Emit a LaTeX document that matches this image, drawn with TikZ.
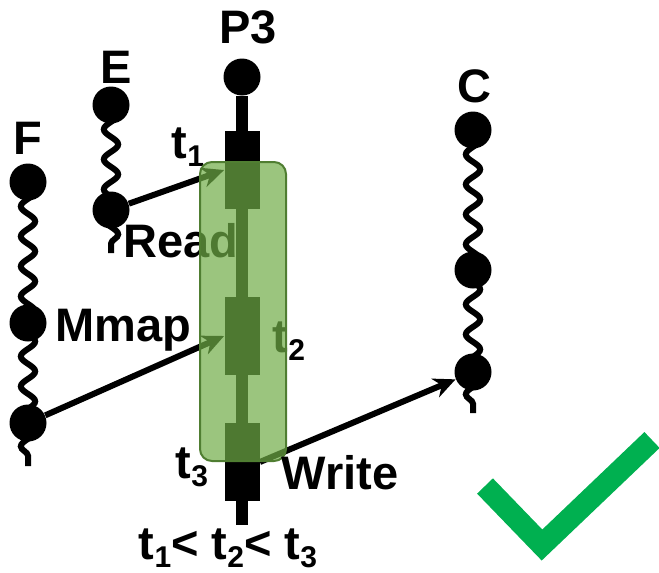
\documentclass[tikz,border=0pt]{standalone}
\usepackage{fontspec}
\setmainfont{Liberation Sans}
\usetikzlibrary{arrows.meta,decorations.pathmorphing}
\definecolor{boxfill}{RGB}{112, 173, 71}
\definecolor{boxline}{RGB}{80, 126, 50}
\definecolor{okgreen}{RGB}{0, 176, 80}
\tikzstyle{ball} = [
    circle,
    fill=black,
    minimum size=18.5pt,
    inner sep=0pt
]
\tikzstyle{wave} = [
    line width=3pt,
    decorate,
    decoration={snake, segment length=15pt, amplitude=3.6pt}
]
\tikzstyle{flow} = [
    line width=3pt,
    -{Stealth[length=11pt, width=10pt, inset=3.5pt]}
]
\tikzstyle{block} = [
    rectangle,
    fill=black,
    minimum width=17.5pt,
    minimum height=39pt,
    inner sep=0pt
]
\tikzstyle{lbl} = [
    font=\fontsize{23.5}{27}\selectfont\bfseries,
    inner sep=0pt
]
\tikzstyle{groupbox} = [
    rounded corners=6pt,
    fill=boxfill,
    fill opacity=0.7,
    draw=boxline,
    line width=1pt
]
\newcommand{\idx}[1]{\raisebox{-4pt}{\fontsize{15}{17}\selectfont #1}}

\begin{document}
\begin{tikzpicture}[x=0.5pt, y=-0.5pt]
        \useasboundingbox (0,0) rectangle (659,573);

        % Process P3
        \node[ball] (p3) at (242,77) {};
        \coordinate (p3end) at (242,525);
        \draw[line width=6pt] (p3) -- (p3end);
        \node[block] (blk1) at (242,170) {};
        \node[block] (blk2) at (242,336) {};
        \node[block] (blk3) at (242,462) {};
        \node[lbl] (p3lbl) at (248,27) {P3};

        % Threads E, F, C
        \coordinate (ecol) at (111,105);
        \coordinate (eend) at (111,253);
        \coordinate (fcol) at (28,182);
        \coordinate (fend) at (28,466);
        \coordinate (ccol) at (473,130);
        \coordinate (cend) at (473,413);
        \draw[wave] (ecol) -- (eend);
        \draw[wave] (fcol) -- (fend);
        \draw[wave] (ccol) -- (cend);

        \node[ball] (e1) at (ecol) {};
        \node[ball] (e2) at (111,210) {};
        \node[ball] (f1) at (fcol) {};
        \node[ball] (f2) at (28,323) {};
        \node[ball] (f3) at (28,423) {};
        \node[ball] (c1) at (ccol) {};
        \node[ball] (c2) at (473,270) {};
        \node[ball] (c3) at (473,372) {};

        \node[lbl] (elbl) at (116,67) {E};
        \node[lbl] (flbl) at (28,138) {F};
        \node[lbl] (clbl) at (474,86) {C};

        % Labels under the group
        \node[lbl] (t1) at (188,147) {t\idx{1}};
        \node[lbl] (t2) at (289,341) {t\idx{2}};
        \node[lbl] (rd) at (181,241) {Read};
        \node[lbl] (mm) at (123,330) {Mmap};

        % Accesses
        \draw[flow] (e2) -- (blk1.west);
        \draw[flow] (f3) -- (blk2.west);
        \draw[flow] (blk3.east) -- (c3);

        % Group
        \draw[groupbox] (200,162) rectangle (286,461);

        \node[lbl] (t3) at (192,467) {t\idx{3}};
        \node[lbl] (wr) at (340,473) {Write};
        \node[lbl] (order) at (228,548) {t\idx{1}< t\idx{2}< t\idx{3}};

        % Check mark
        \draw[okgreen, line width=11pt, line join=miter] (485,486) -- (542,545) -- (652,440);
    \end{tikzpicture}
\end{document}
